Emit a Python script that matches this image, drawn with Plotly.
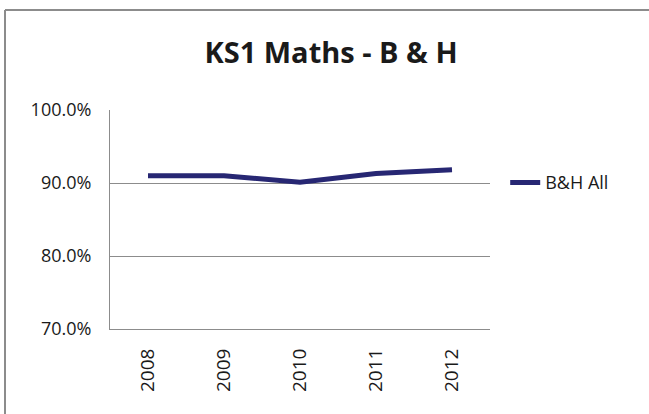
import plotly.graph_objects as go

years = ["2008", "2009", "2010", "2011", "2012"]
bh_all = [91.0, 91.0, 90.1, 91.3, 91.8]

fig = go.Figure()
fig.add_trace(go.Scatter(
    x=years,
    y=bh_all,
    name="B&H All",
    mode="lines",
    line=dict(color="#272773", width=5),
))

fig.update_layout(
    width=649,
    height=414,
    margin=dict(l=110, r=159, t=110, b=85),
    paper_bgcolor="white",
    plot_bgcolor="white",
    font=dict(family="Open Sans", size=18, color="#1a1a1a"),
    title=dict(
        text="<b>KS1 Maths - B & H</b>",
        x=331 / 649, xref="container", xanchor="center",
        y=1 - 53 / 414, yanchor="middle",
        font=dict(size=29, color="#1a1a1a"),
    ),
    showlegend=True,
    legend=dict(
        x=1.04, xanchor="left", y=0.668, yanchor="middle",
        font=dict(size=18),
        bgcolor="rgba(0,0,0,0)",
    ),
    xaxis=dict(
        type="category",
        tickangle=-90,
        showgrid=False,
        showline=True, linecolor="#8c8c8c", linewidth=1,
        ticks="",
        range=[-0.5, 4.5],
        tickfont=dict(size=19),
        ticklabelstandoff=11,
    ),
    yaxis=dict(
        range=[70, 100],
        dtick=10,
        tickformat=".1f",
        ticksuffix="%",
        showgrid=True, gridcolor="#8c8c8c", gridwidth=1,
        showline=True, linecolor="#8c8c8c", linewidth=1,
        zeroline=False,
        ticks="",
        ticklabelstandoff=14,
    ),
    shapes=[
        dict(type="line", xref="paper", yref="paper",
             x0=(5 - 110) / 380, x1=(660 - 110) / 380,
             y0=(329 - 10) / 219, y1=(329 - 10) / 219,
             line=dict(color="#8c8c8c", width=2)),
        dict(type="line", xref="paper", yref="paper",
             x0=(5 - 110) / 380, x1=(5 - 110) / 380,
             y0=(329 - 10) / 219, y1=(329 - 420) / 219,
             line=dict(color="#8c8c8c", width=2)),
    ],
)

fig.write_html(
    "out.html",
    config={"displayModeBar": False},
    post_script="document.body.style.margin='0';",
)
